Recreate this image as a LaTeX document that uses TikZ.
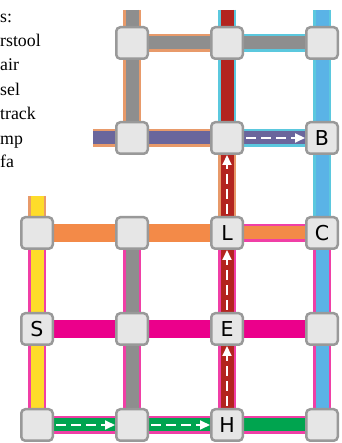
\documentclass[tikz,border=0pt]{standalone}
\usepackage{fontspec}
\setmainfont{Liberation Serif}
\setsansfont{DejaVu Sans}
\usetikzlibrary{arrows.meta,backgrounds}
\definecolor{boxfill}{HTML}{E6E6E6}
\definecolor{boxline}{HTML}{999999}
\definecolor{railgray}{HTML}{8E8E8E}
\definecolor{railtan}{HTML}{E89A6A}
\definecolor{railorange}{HTML}{F38A48}
\definecolor{railred}{HTML}{B3241F}
\definecolor{railcyan}{HTML}{5BC8DE}
\definecolor{railblue}{HTML}{5AB3E6}
\definecolor{railpurple}{HTML}{6A669C}
\definecolor{railyellow}{HTML}{FEDC2A}
\definecolor{railpink}{HTML}{F03FA6}
\definecolor{railmagenta}{HTML}{EB008B}
\definecolor{railgreen}{HTML}{00A44F}
\begin{document}
\begin{tikzpicture}[
				x=1pt,y=1pt,line join = round,
				stn/.style={rectangle,rounded corners=4pt,draw = boxline,fill = boxfill,line width=2.5pt, minimum width=31.5pt, minimum height=31.5pt,inner sep=0pt,font=\fontsize{20.5}{24}\sffamily},
				rail/.style 2 args={draw=#1,double=#2,line width=2.5pt,double distance=13pt},
				walk/.style={draw=white,line width=2pt,dash pattern=on 10pt off 5pt,shorten <=2pt,-{Triangle[length=10pt,width=9pt]}},
				lgd/.style={anchor=base west,inner sep=0pt,font=\fontsize{17.8}{20}\rmfamily}]
				\useasboundingbox (0,0) rectangle (341,443);
				% legend (cut off at the left)
				\node at (0,420) (lg1) [lgd] {s:};
				\node at (0,396) (lg2) [lgd] {rstool};
				\node at (0,372) (lg3) [lgd] {air};
				\node at (0,347) (lg4) [lgd] {sel};
				\node at (0,323) (lg5) [lgd] {track};
				\node at (0,298) (lg6) [lgd] {mp};
				\node at (0,275) (lg7) [lgd] {fa};
				% stations
				\node at (132,400) (n1b) [stn] {};
				\node at (227,400) (n1c) [stn] {};
				\node at (322,400) (n1d) [stn] {};
				\node at (132,305) (n2b) [stn] {};
				\node at (227,305) (n2c) [stn] {};
				\node at (322,305) (nB) [stn] {B};
				\node at (37,210) (n3a) [stn] {};
				\node at (132,210) (n3b) [stn] {};
				\node at (227,210) (nL) [stn] {L};
				\node at (322,210) (nC) [stn] {C};
				\node at (37,114) (nS) [stn] {S};
				\node at (132,114) (n4b) [stn] {};
				\node at (227,114) (nE) [stn] {E};
				\node at (322,114) (n4d) [stn] {};
				\node at (37,18) (n5a) [stn] {};
				\node at (132,18) (n5b) [stn] {};
				\node at (227,18) (nH) [stn] {H};
				\node at (322,18) (n5d) [stn] {};
				% free ends
				\coordinate (tb) at (132,433);
				\coordinate (tc) at (227,433);
				\coordinate (td) at (322,433);
				\coordinate (pw) at (93,305);
				\coordinate (ya) at (37,247);
				% lines
				\begin{scope}[on background layer]
				\draw[rail={railtan}{railgray}] (tb) -- (n1b.center);
				\draw[rail={railtan}{railgray}] (n1b.center) -- (n2b.center);
				\draw[rail={railtan}{railgray}] (n1b.center) -- (n1c.center);
				\draw[rail={railcyan}{railgray}] (n1c.center) -- (n1d.center);
				\draw[rail={railcyan}{railred}] (tc) -- (n1c.center);
				\draw[rail={railcyan}{railred}] (n1c.center) -- (n2c.center);
				\draw[rail={railcyan}{railblue}] (td) -- (n1d.center);
				\draw[rail={railcyan}{railblue}] (n1d.center) -- (nB.center);
				\draw[rail={railcyan}{railblue}] (nB.center) -- (nC.center);
				\draw[rail={railtan}{railpurple}] (pw) -- (n2b.center);
				\draw[rail={railtan}{railpurple}] (n2b.center) -- (n2c.center);
				\draw[rail={railcyan}{railpurple}] (n2c.center) -- (nB.center);
				\draw[rail={railtan}{railred}] (n2c.center) -- (nL.center);
				\draw[rail={railtan}{railyellow}] (ya) -- (n3a.center);
				\draw[rail={railorange}{railorange}] (n3a.center) -- (n3b.center);
				\draw[rail={railorange}{railorange}] (n3b.center) -- (nL.center);
				\draw[rail={railpink}{railorange}] (nL.center) -- (nC.center);
				\draw[rail={railpink}{railyellow}] (n3a.center) -- (nS.center);
				\draw[rail={railpink}{railyellow}] (nS.center) -- (n5a.center);
				\draw[rail={railpink}{railgray}] (n3b.center) -- (n4b.center);
				\draw[rail={railpink}{railgray}] (n4b.center) -- (n5b.center);
				\draw[rail={railpink}{railred}] (nL.center) -- (nE.center);
				\draw[rail={railpink}{railred}] (nE.center) -- (nH.center);
				\draw[rail={railpink}{railblue}] (nC.center) -- (n4d.center);
				\draw[rail={railpink}{railblue}] (n4d.center) -- (n5d.center);
				\draw[rail={railmagenta}{railmagenta}] (nS.center) -- (n4b.center);
				\draw[rail={railmagenta}{railmagenta}] (n4b.center) -- (nE.center);
				\draw[rail={railmagenta}{railmagenta}] (nE.center) -- (n4d.center);
				\draw[rail={railpink}{railgreen}] (n5a.center) -- (n5b.center);
				\draw[rail={railpink}{railgreen}] (n5b.center) -- (nH.center);
				\draw[rail={railpink}{railgreen}] (nH.center) -- (n5d.center);
				\end{scope}
				% route
				\draw[walk] (n5a) -- (n5b);
				\draw[walk] (n5b) -- (nH);
				\draw[walk] (nH) -- (nE);
				\draw[walk] (nE) -- (nL);
				\draw[walk] (nL) -- (n2c);
				\draw[walk] (n2c) -- (nB);
			\end{tikzpicture}
\end{document}
